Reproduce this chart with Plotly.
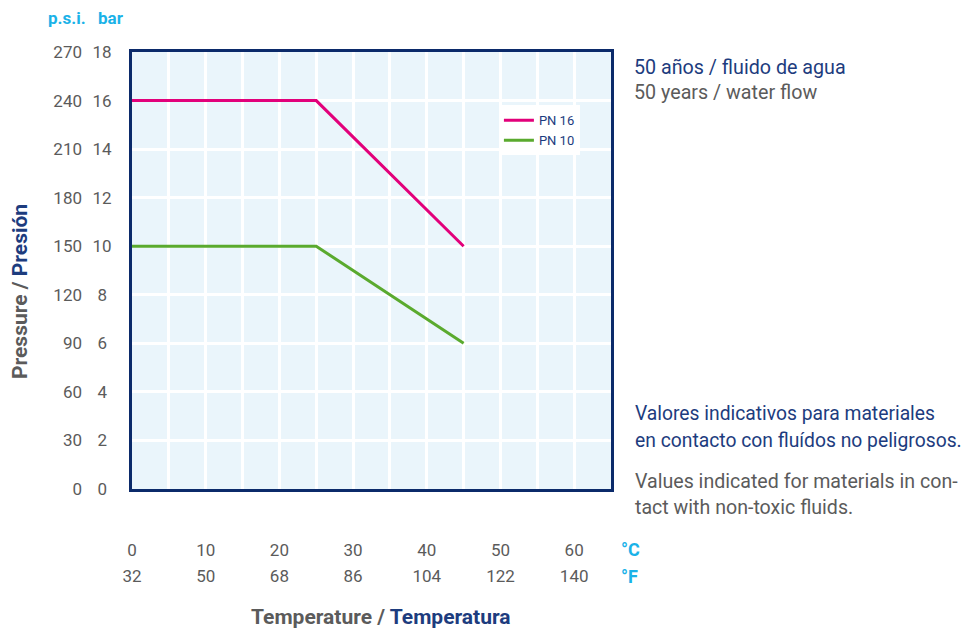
import plotly.graph_objects as go

# ---- data ----
temps_c = [0, 25, 45]
pn16_bar = [16, 16, 10]
pn10_bar = [10, 10, 6]

x_tick_c = [0, 10, 20, 30, 40, 50, 60]
x_tick_f = [32, 50, 68, 86, 104, 122, 140]
y_tick_bar = [0, 2, 4, 6, 8, 10, 12, 14, 16, 18]
y_tick_psi = [0, 30, 60, 90, 120, 150, 180, 210, 240, 270]

FONT = "Roboto, 'Noto Sans', sans-serif"
GREY = "#5b5b5b"
NAVY = "#1d3c7e"
CYAN = "#1ab2e8"
BORDER = "#0b2a6a"
BG = "#eaf5fb"
MAGENTA = "#e2007a"
GREEN = "#5aaa2e"

fig = go.Figure()
fig.add_trace(go.Scatter(x=temps_c, y=pn16_bar, mode="lines", name="PN 16",
                         line=dict(color=MAGENTA, width=3)))
fig.add_trace(go.Scatter(x=temps_c, y=pn10_bar, mode="lines", name="PN 10",
                         line=dict(color=GREEN, width=3)))
# dummy trace so the secondary (°F / psi) label axes are drawn
fig.add_trace(go.Scatter(x=[None], y=[None], xaxis="x2", yaxis="y2",
                         showlegend=False, hoverinfo="skip"))

# x grid every 5, labels on the 10s
xvals = list(range(0, 65, 5))
xtext_c = [str(v) if v in x_tick_c else "" for v in xvals]
xtext_f = [str(x_tick_f[x_tick_c.index(v)]) if v in x_tick_c else "" for v in xvals]

# centre single-digit bar labels within the two-digit column
bar_text = [str(v) if v >= 10 else str(v) + "\u2008" for v in y_tick_bar]

TICK = 17
# the page adds an 8px body margin; figure is sized to fit inside the window
fig.update_layout(
    width=961, height=622,
    margin=dict(l=124, r=358, t=44, b=141),
    paper_bgcolor="white", plot_bgcolor=BG,
    font=dict(family=FONT, color=GREY, size=20),
    showlegend=True,
    legend=dict(x=0.766, y=0.878, xanchor="left", yanchor="top",
                bgcolor="white", borderwidth=0,
                font=dict(family=FONT, size=13, color=NAVY),
                itemwidth=30, tracegroupgap=0),
    xaxis=dict(range=[0, 65], tickmode="array", tickvals=xvals, ticktext=xtext_c,
               showgrid=True, gridcolor="white", gridwidth=3,
               showline=True, linecolor=BORDER, linewidth=3, mirror=True,
               ticks="", zeroline=False, ticklabelstandoff=44,
               tickfont=dict(family=FONT, size=TICK, color=GREY)),
    xaxis2=dict(range=[0, 65], overlaying="x", side="bottom", anchor="y",
                tickmode="array", tickvals=xvals, ticktext=xtext_f,
                showgrid=False, showline=False, zeroline=False, ticks="",
                ticklabelstandoff=75,
                tickfont=dict(family=FONT, size=TICK, color=GREY)),
    yaxis=dict(range=[0, 18], tickmode="array", tickvals=y_tick_bar,
               ticktext=bar_text,
               showgrid=True, gridcolor="white", gridwidth=3,
               showline=True, linecolor=BORDER, linewidth=3, mirror=True,
               ticks="", zeroline=False, ticklabelstandoff=14,
               tickfont=dict(family=FONT, size=TICK, color=GREY)),
    yaxis2=dict(range=[0, 18], overlaying="y", side="left", anchor="x",
                tickmode="array", tickvals=y_tick_bar,
                ticktext=[str(v) for v in y_tick_psi],
                showgrid=False, showline=False, zeroline=False, ticks="",
                ticklabelstandoff=49,
                tickfont=dict(family=FONT, size=TICK, color=GREY)),
)

ann = []
def A(text, x, y, xanchor="left", yanchor="middle", size=20, color=GREY, angle=0):
    ann.append(dict(text=text, x=x, y=y, xref="paper", yref="paper", xanchor=xanchor,
                    yanchor=yanchor, showarrow=False, textangle=angle,
                    font=dict(family=FONT, size=size, color=color)))

# positions given in window pixels relative to plot area (left 132, top 52, 479x437)
PX = lambda px: (px - 132) / 479
PY = lambda py: 1 - (py - 52) / 437

A("<b>p.s.i.</b>", PX(88), PY(18), xanchor="right", size=17, color=CYAN)
A("<b>bar</b>", PX(96), PY(18), xanchor="left", size=17, color=CYAN)
A("<b>°C</b>", PX(619), PY(549), xanchor="left", size=18, color=CYAN)
A("<b>°F</b>", PX(619), PY(576), xanchor="left", size=18, color=CYAN)
A(f"<b>Temperature / <span style='color:{NAVY}'>Temperatura</span></b>",
  PX(381), PY(617), xanchor="center", size=21)
A(f"<b>Pressure / <span style='color:{NAVY}'>Presión</span></b>",
  PX(20), PY(292), xanchor="center", angle=-90, size=21)
A("50 años / fluido de agua", PX(632), PY(67), color=NAVY, size=19.7)
A("50 years / water flow", PX(632), PY(92), color=GREY, size=19.7)
A("Valores indicativos para materiales", PX(633), PY(413), color=NAVY, size=19.3)
A("en contacto con fluídos no peligrosos.", PX(633), PY(440), color=NAVY, size=19.3)
A("Values indicated for materials in con-", PX(633), PY(481), color=GREY, size=19.6)
A("tact with non-toxic fluids.", PX(633), PY(507), color=GREY, size=19.6)

fig.update_layout(annotations=ann)
fig.write_html("out.html")
